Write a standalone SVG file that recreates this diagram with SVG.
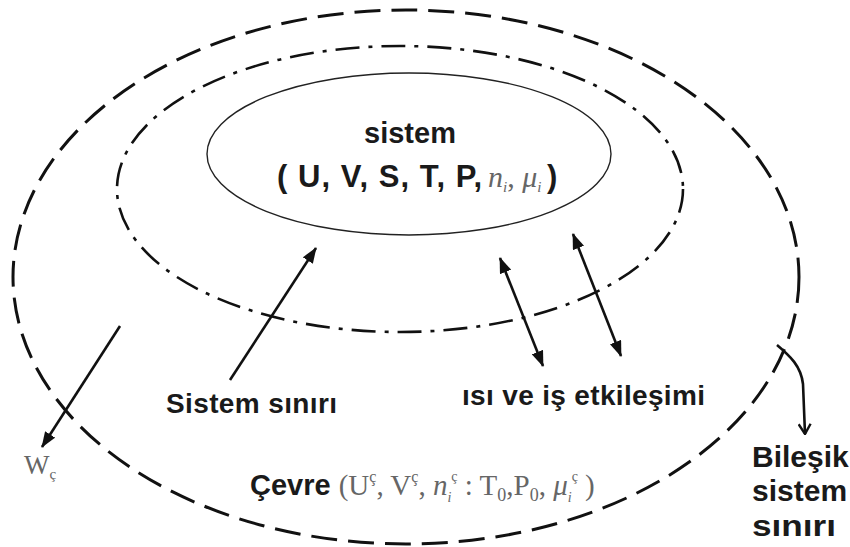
<svg xmlns="http://www.w3.org/2000/svg" width="850" height="547" viewBox="0 0 850 547">
  <defs>
    <style>
      .lbl { font-family: "Liberation Sans", Arial, sans-serif; font-weight: bold; fill: #1a1a1a; }
      .math { font-family: "Liberation Serif", "Times New Roman", serif; fill: #666; }
      .it { font-style: italic; }
      .outer { fill: none; stroke: #111; stroke-width: 3; stroke-dasharray: 26 11; }
      .mid { fill: none; stroke: #111; stroke-width: 2.6; stroke-dasharray: 24 9 4 9; }
      .inner { fill: none; stroke: #222; stroke-width: 1.4; }
      .arr { fill: none; stroke: #111; stroke-width: 2.6; }
    </style>
    <marker id="tri" viewBox="0 0 16 12" refX="15" refY="6" markerWidth="16" markerHeight="12" markerUnits="userSpaceOnUse" orient="auto-start-reverse">
      <path d="M0,0 L16,6 L0,12 z" fill="#111"/>
    </marker>
    <marker id="open" viewBox="0 0 12 14" refX="11" refY="7" markerWidth="12" markerHeight="14" markerUnits="userSpaceOnUse" orient="auto">
      <path d="M1,1 L11,7 L1,13" fill="none" stroke="#111" stroke-width="2.4"/>
    </marker>
  </defs>
  <rect width="850" height="547" fill="#fff"/>

  <g id="bilesik-sistem">
    <ellipse class="outer" cx="406" cy="277" rx="393" ry="267"/>
  </g>
  <g id="sistem-siniri">
    <ellipse class="mid" cx="400" cy="189" rx="283" ry="143"/>
  </g>
  <g id="sistem">
    <ellipse class="inner" cx="409" cy="154" rx="202" ry="81"/>
    <text class="lbl" x="410" y="143" font-size="29" text-anchor="middle">sistem</text>
    <text class="lbl" x="277" y="187" font-size="31" textLength="205">( U, V, S, T, P,</text>
    <text class="math it" x="488" y="187" font-size="30">n<tspan font-size="15" dy="5">i</tspan><tspan font-style="normal" dy="-5">, </tspan>μ<tspan font-size="15" dy="5">i</tspan></text>
    <text class="lbl" x="547" y="187" font-size="31">)</text>
  </g>

  <g id="connectors">
    <line class="arr" x1="230" y1="380" x2="316" y2="248" marker-end="url(#tri)"/>
    <line class="arr" x1="120" y1="326" x2="42" y2="447" marker-end="url(#tri)"/>
    <line class="arr" x1="500" y1="258" x2="543" y2="366" marker-start="url(#tri)" marker-end="url(#tri)"/>
    <line class="arr" x1="573" y1="234" x2="621" y2="356" marker-start="url(#tri)" marker-end="url(#tri)"/>
    <path class="arr" d="M777,345 C790,356 801,366 803,384 L805,434" marker-end="url(#open)"/>
  </g>

  <g id="label-sistem-siniri">
    <text class="lbl" x="166" y="413" font-size="28" textLength="171">Sistem sınırı</text>
  </g>
  <g id="label-isi-is">
    <text class="lbl" x="462" y="405" font-size="28" textLength="243">ısı ve iş etkileşimi</text>
  </g>
  <g id="label-wc">
    <text class="math" x="24" y="474" font-size="27">W<tspan font-size="15" dy="5">ç</tspan></text>
  </g>
  <g id="label-cevre">
    <text x="250" y="495" font-size="29"><tspan class="lbl">Çevre </tspan><tspan class="math">(U<tspan font-size="16" y="482">ç</tspan><tspan y="495">, V</tspan><tspan font-size="16" y="482">ç</tspan><tspan y="495">, </tspan><tspan class="it">n</tspan><tspan font-size="14" y="502" class="it">i</tspan><tspan font-size="14" y="481">ç</tspan><tspan y="495"> : T</tspan><tspan font-size="18" y="501">0</tspan><tspan y="495">,P</tspan><tspan font-size="18" y="501">0</tspan><tspan y="495">, </tspan><tspan class="it">μ</tspan><tspan font-size="14" y="502" class="it">i</tspan><tspan font-size="14" y="481">ç</tspan><tspan y="495"> )</tspan></tspan></text>
  </g>
  <g id="label-bilesik">
    <text class="lbl" x="752" y="467" font-size="30">Bileşik</text>
    <text class="lbl" x="752" y="501" font-size="30">sistem</text>
    <text class="lbl" x="752" y="536" font-size="30" textLength="84" lengthAdjust="spacingAndGlyphs">sınırı</text>
  </g>
</svg>
